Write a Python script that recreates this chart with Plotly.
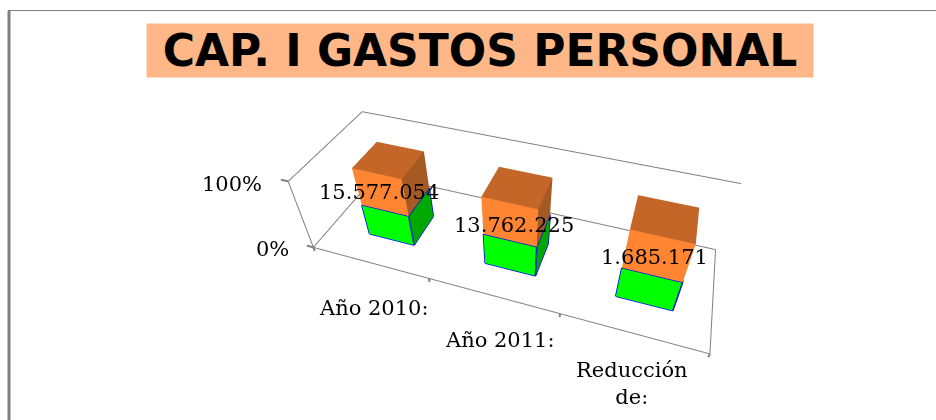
import math
import plotly.graph_objects as go

categories = ["Año 2010:", "Año 2011:", "Reducción<br>de:"]
value_labels = ["15.577.054", "13.762.225", "1.685.171"]
green_share = [47, 47, 46]
orange_share = [53, 53, 54]
pct_ticks = [0, 100]
title_text = "CAP. I GASTOS PERSONAL"

BW, BD, BX, BY = 0.40, 0.36, 0.54, 0.46
TOP, FRONT, SIDE = "#C46628", "#FF8533", "#A55A23"
value_shift = [(-19, -1), (-5, -6), (-2, -7)]
cat_shift = [(3, -41), (8, -40), (1, -46)]
pct_shift = {0: (-9, -5), 100: (-10, -6)}


def box(xc, z0, z1, front, side, top):
    x0, x1 = xc - BW / 2, xc + BW / 2
    y0, y1 = BY - BD / 2, BY + BD / 2
    xs = [x0, x1, x1, x0, x0, x1, x1, x0]
    ys = [y0, y0, y1, y1, y0, y0, y1, y1]
    zs = [z0, z0, z0, z0, z1, z1, z1, z1]
    tri = [(0, 1, 5), (0, 5, 4), (1, 2, 6), (1, 6, 5), (4, 5, 6), (4, 6, 7),
           (3, 2, 6), (3, 6, 7), (0, 3, 7), (0, 7, 4), (0, 1, 2), (0, 2, 3)]
    cols = [front, front, side, side, top, top, side, side, side, side, top, top]
    return go.Mesh3d(x=xs, y=ys, z=zs,
                     i=[t[0] for t in tri], j=[t[1] for t in tri], k=[t[2] for t in tri],
                     facecolor=cols, flatshading=True, hoverinfo="skip",
                     lighting=dict(ambient=1, diffuse=0, specular=0, fresnel=0, roughness=1))


def seg(pts):
    xs, ys, zs = [], [], []
    for a, b in pts:
        xs += [a[0], b[0], None]
        ys += [a[1], b[1], None]
        zs += [a[2], b[2], None]
    return xs, ys, zs


fig = go.Figure()
n = len(categories)
for idx in range(n):
    xc = idx + BX
    g = green_share[idx]
    o = orange_share[idx]
    fig.add_trace(box(xc, 0, g, "#00FF00", "#00A800", "#00FF00"))
    fig.add_trace(box(xc, g, g + o, FRONT, SIDE, TOP))
    x0, x1 = xc - BW / 2, xc + BW / 2
    y0, y1 = BY - BD / 2, BY + BD / 2
    xs, ys, zs = seg([((x0, y0, 0), (x1, y0, 0)), ((x1, y0, 0), (x1, y1, 0)),
                      ((x1, y1, 0), (x1, y1, g)), ((x1, y0, 0), (x1, y0, g)),
                      ((x0, y0, 0), (x0, y0, g)), ((x0, y0, g), (x1, y0, g)),
                      ((x1, y0, g), (x1, y1, g))])
    fig.add_trace(go.Scatter3d(x=xs, y=ys, z=zs, mode="lines",
                               line=dict(color="#0000FF", width=3), hoverinfo="skip"))

frame = [((0, 0, 0), (n, 0, 0)), ((n, 0, 0), (n, 1, 0)), ((n, 1, 0), (0, 1, 0)), ((0, 1, 0), (0, 0, 0)),
         ((0, 0, 0), (0, 0, 100)), ((0, 0, 100), (0, 1, 100)), ((0, 1, 100), (n, 1, 100))]
xs, ys, zs = seg(frame)
fig.add_trace(go.Scatter3d(x=xs, y=ys, z=zs, mode="lines",
                           line=dict(color="#808080", width=2), hoverinfo="skip"))
ticks = [((0, 0, p), (-0.06, 0, p)) for p in pct_ticks] + [((c, 0, 0), (c, 0, -6)) for c in range(n + 1)]
xs, ys, zs = seg(ticks)
fig.add_trace(go.Scatter3d(x=xs, y=ys, z=zs, mode="lines",
                           line=dict(color="#808080", width=4), hoverinfo="skip"))

font = dict(family="DejaVu Serif", size=21, color="#000000")
ann = []
for idx in range(n):
    ann.append(dict(x=idx + BX, y=0.5, z=50, text=value_labels[idx], showarrow=False, font=font,
                    xshift=value_shift[idx][0], yshift=value_shift[idx][1]))
    ann.append(dict(x=idx + 0.5, y=0, z=-8, text=categories[idx], showarrow=False, font=font,
                    xshift=cat_shift[idx][0], yshift=cat_shift[idx][1]))
for p in pct_ticks:
    ann.append(dict(x=-0.12, y=0, z=p, text=f"{p}%", showarrow=False, font=font, xanchor="right",
                    xshift=pct_shift[p][0], yshift=pct_shift[p][1]))

phi = math.radians(18.5)
elev = math.radians(42)
dist = 1.25
cz = 0.025
fig.update_layout(
    width=936, height=420, margin=dict(l=0, r=0, t=0, b=0),
    paper_bgcolor="white", showlegend=False,
    scene=dict(
        domain=dict(x=[0.098, 1.0], y=[0, 1]),
        xaxis=dict(visible=False, range=[-0.15, 3.15]),
        yaxis=dict(visible=False, range=[0, 1]),
        zaxis=dict(visible=False, range=[-8, 108]),
        aspectmode="manual",
        aspectratio=dict(x=1.113, y=0.33, z=0.26),
        camera=dict(eye=dict(x=dist * math.sin(phi) * math.cos(elev),
                             y=-dist * math.cos(phi) * math.cos(elev),
                             z=dist * math.sin(elev) + cz),
                    up=dict(x=0, y=0, z=1),
                    center=dict(x=0, y=0, z=cz)),
        bgcolor="white",
        annotations=ann,
    ),
    annotations=[dict(xref="paper", yref="paper", x=146 / 936, y=1 - 23 / 420, xanchor="left", yanchor="top",
                      text=f"<b>{title_text}</b>", showarrow=False, bgcolor="#FFB787", width=664, height=51,
                      font=dict(family="DejaVu Sans", size=44, color="#000000"))],
    shapes=[dict(type="line", xref="paper", yref="paper", x0=9 / 936, x1=9 / 936, y0=0, y1=1 - 11 / 420,
                 line=dict(color="#7F7F7F", width=3)),
            dict(type="line", xref="paper", yref="paper", x0=8 / 936, x1=1, y0=1 - 10.5 / 420, y1=1 - 10.5 / 420,
                 line=dict(color="#7F7F7F", width=1))],
)
fig.write_html("out.html", config=dict(displayModeBar=False),
               post_script="document.body.style.margin='0';document.documentElement.style.overflow='hidden';")
